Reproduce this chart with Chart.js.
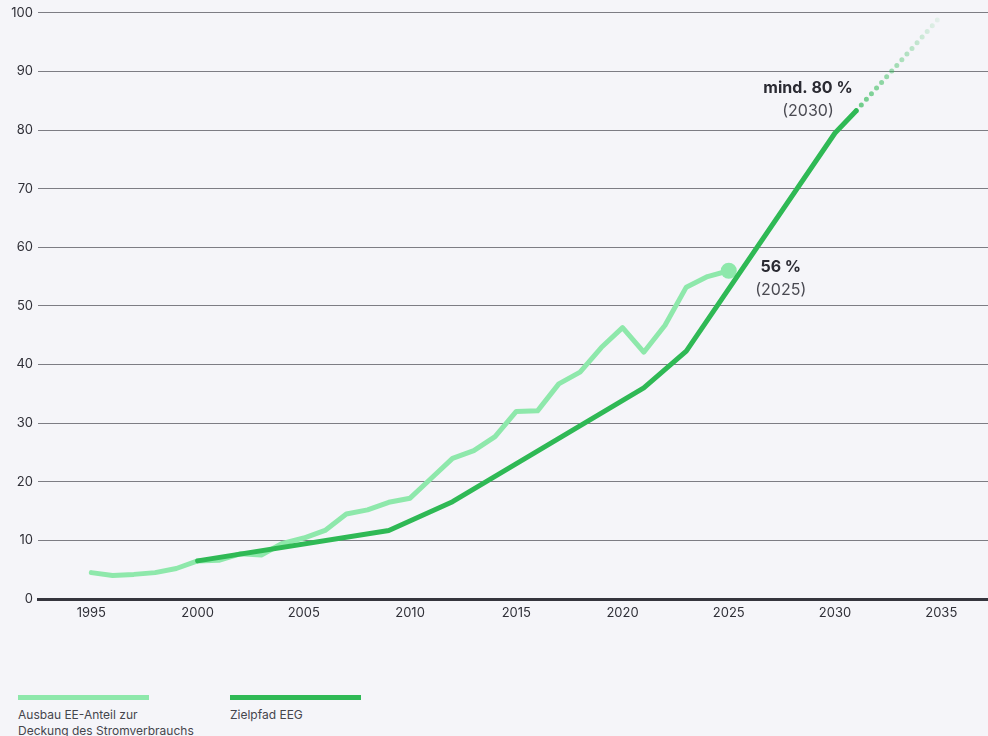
<!DOCTYPE html>
<html>
<head>
<meta charset="utf-8">
<script src="https://cdn.jsdelivr.net/npm/chart.js@4.4.1/dist/chart.umd.min.js"></script>
<style>
  html, body { margin: 0; padding: 0; background: #f5f5f9; }
  body { width: 988px; height: 736px; position: relative; overflow: hidden; font-family: Inter, "Noto Sans", sans-serif; }
  #wrap { position: absolute; left: 0; top: 0; width: 988px; height: 640px; }
  .legend-item { position: absolute; top: 695px; font-size: 12px; line-height: 16px; color: #45454c; }
  .legend-item .bar { width: 131px; height: 5px; margin-bottom: 7px; }
</style>
</head>
<body>
<div id="wrap"><canvas id="chart" width="988" height="640"></canvas></div>

<div class="legend-item" style="left:18px">
  <div class="bar" style="background:#8ee8ab"></div>
  Ausbau EE-Anteil zur<br>Deckung des Stromverbrauchs
</div>
<div class="legend-item" style="left:230px">
  <div class="bar" style="background:#2fb955"></div>
  Zielpfad EEG
</div>

<script>
// Anteil erneuerbarer Energien am Bruttostromverbrauch (%)
const eeYears = [1995, 1996, 1997, 1998, 1999, 2000, 2001, 2002, 2003, 2004, 2005,
  2006, 2007, 2008, 2009, 2010, 2011, 2012, 2013, 2014, 2015, 2016, 2017, 2018,
  2019, 2020, 2021, 2022, 2023, 2024, 2025];
const eeValues = [4.5, 4.0, 4.2, 4.5, 5.2, 6.5, 6.6, 7.7, 7.5, 9.5, 10.4,
  11.7, 14.5, 15.2, 16.5, 17.2, 20.6, 24.0, 25.3, 27.7, 32.0, 32.1, 36.7, 38.7,
  42.9, 46.3, 42.1, 46.7, 53.2, 55.0, 56.0];

// Zielpfad EEG
const targetYears = [2000, 2009, 2012, 2021, 2023, 2030, 2031];
const targetValues = [6.5, 11.7, 16.6, 36.0, 42.3, 79.5, 83.3];

// gepunktete Fortsetzung
const outlookYears = [2031, 2035];
const outlookValues = [83.3, 99.5];

const xTicks = [1995, 2000, 2005, 2010, 2015, 2020, 2025, 2030, 2035];
const yTicks = [0, 10, 20, 30, 40, 50, 60, 70, 80, 90, 100];

const LIGHT = '#8ee8ab';
const DARK = '#2fb955';

const toPoints = (xs, ys) => xs.map((x, i) => ({ x: x, y: ys[i] }));

const labelPlugin = {
  id: 'labels',
  afterDatasetsDraw(chart) {
    const { ctx, scales } = chart;
    const draw = (year, val, dx, dy, bold, normal) => {
      const px = scales.x.getPixelForValue(year) + dx;
      const py = scales.y.getPixelForValue(val) + dy;
      ctx.save();
      ctx.textAlign = 'center';
      ctx.textBaseline = 'middle';
      ctx.fillStyle = '#2b2b33';
      ctx.font = 'bold 16px Inter, "Noto Sans", sans-serif';
      ctx.fillText(bold, px, py);
      ctx.fillStyle = '#4a4a52';
      ctx.font = '16px Inter, "Noto Sans", sans-serif';
      ctx.fillText(normal, px, py + 23);
      ctx.restore();
    };
    draw(2030, 79.5, -27, -45, 'mind. 80 %', '(2030)');
    draw(2025, 56, 52, -4, '56 %', '(2025)');
  }
};

function fadeColor(ctx) {
  const chart = ctx.chart;
  const x = chart.scales.x;
  if (!chart.chartArea || !x) return 'rgba(47,185,85,0.4)';
  const x0 = x.getPixelForValue(outlookYears[0]);
  const x1 = x.getPixelForValue(outlookYears[1]);
  if (!isFinite(x0) || !isFinite(x1)) return 'rgba(47,185,85,0.4)';
  const g = chart.ctx.createLinearGradient(x0, 0, x1, 0);
  g.addColorStop(0, 'rgba(47,185,85,0.7)');
  g.addColorStop(0.5, 'rgba(47,185,85,0.4)');
  g.addColorStop(1, 'rgba(47,185,85,0.06)');
  return g;
}

new Chart(document.getElementById('chart'), {
  type: 'line',
  data: {
    datasets: [
      {
        label: 'Zielpfad EEG',
        data: toPoints(targetYears, targetValues),
        borderColor: DARK,
        borderWidth: 5,
        borderCapStyle: 'round',
        borderJoinStyle: 'round',
        pointRadius: 0,
        order: 0
      },
      {
        label: 'Ausbau EE-Anteil zur Deckung des Stromverbrauchs',
        data: toPoints(eeYears, eeValues),
        borderColor: LIGHT,
        backgroundColor: LIGHT,
        borderWidth: 5,
        borderCapStyle: 'round',
        borderJoinStyle: 'round',
        pointRadius: ctx => ctx.dataIndex === eeYears.length - 1 ? 8 : 0,
        pointBorderWidth: 0,
        order: 1
      },
      {
        label: 'Ausblick',
        data: toPoints(outlookYears, outlookValues),
        borderColor: fadeColor,
        borderWidth: 5,
        borderDash: [0, 7.6],
        borderCapStyle: 'round',
        pointRadius: 0,
        order: 2
      }
    ]
  },
  options: {
    responsive: false,
    animation: false,
    layout: { autoPadding: false, padding: { top: 12, left: 0, right: 0, bottom: 0 } },
    plugins: {
      legend: { display: false },
      tooltip: { enabled: false }
    },
    scales: {
      x: {
        type: 'linear',
        min: 1992.49,
        max: 2037.2,
        afterBuildTicks: s => { s.ticks = xTicks.map(v => ({ value: v })); },
        afterFit: s => { s.height = 41; },
        grid: { display: false, drawTicks: false },
        border: { display: true, color: '#35353d', width: 3 },
        ticks: {
          includeBounds: false,
          padding: 6,
          color: '#2f2f37',
          font: { family: 'Inter, "Noto Sans", sans-serif', size: 13 },
          callback: v => String(v)
        }
      },
      y: {
        min: 0,
        max: 100,
        afterBuildTicks: s => { s.ticks = yTicks.map(v => ({ value: v })); },
        afterFit: s => { s.width = 38; },
        grid: {
          drawTicks: false,
          color: ctx => ctx.tick && ctx.tick.value === 0 ? 'rgba(0,0,0,0)' : '#7d7d84',
          lineWidth: 1
        },
        border: { display: false },
        ticks: {
          padding: 5,
          color: '#2f2f37',
          font: { family: 'Inter, "Noto Sans", sans-serif', size: 13 }
        }
      }
    }
  },
  plugins: [labelPlugin]
});
</script>
</body>
</html>
